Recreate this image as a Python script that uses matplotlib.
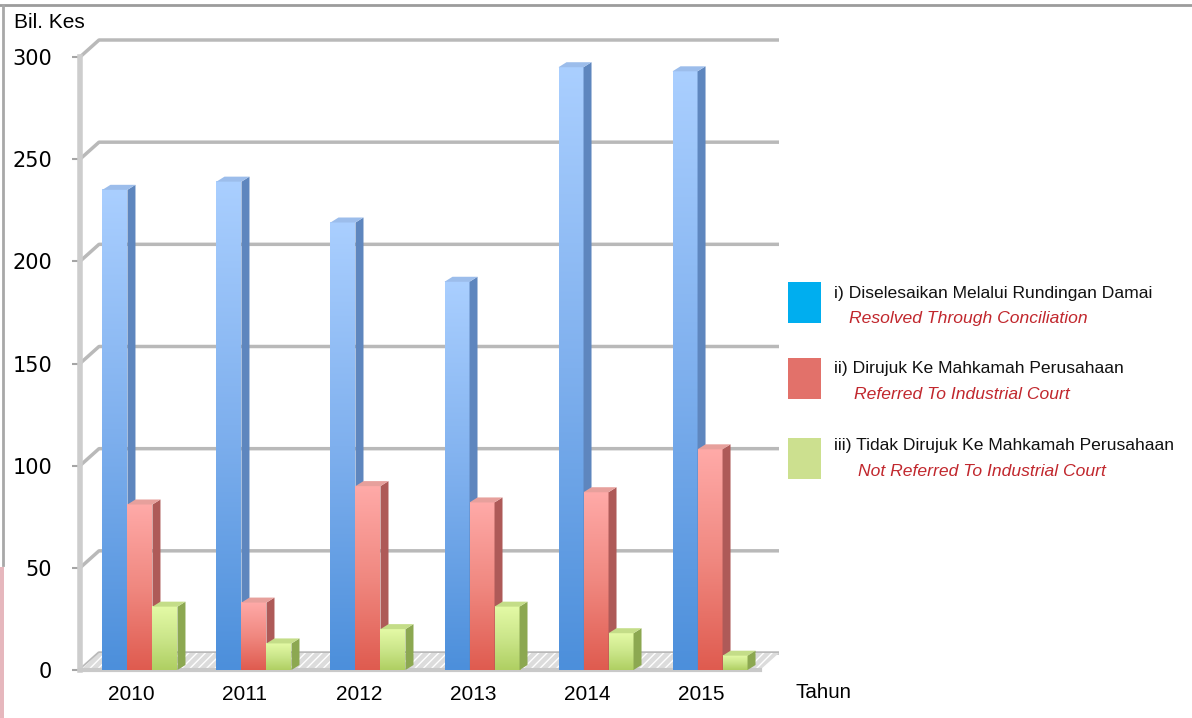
import numpy as np
import matplotlib.pyplot as plt
from matplotlib.colors import LinearSegmentedColormap
from matplotlib.patches import Polygon, Rectangle
from matplotlib.lines import Line2D
import matplotlib.transforms as mtransforms

# data
years = ['2010', '2011', '2012', '2013', '2014', '2015']
resolved = [235, 239, 219, 190, 295, 293]      # Resolved Through Conciliation
referred = [81, 33, 90, 82, 87, 108]           # Referred To Industrial Court
not_referred = [31, 13, 20, 31, 18, 7]         # Not Referred To Industrial Court
yticks = [0, 50, 100, 150, 200, 250, 300]

legend_my = ['i) Diselesaikan Melalui Rundingan Damai',
             'ii) Dirujuk Ke Mahkamah Perusahaan',
             'iii) Tidak Dirujuk Ke Mahkamah Perusahaan']
legend_en = ['Resolved Through Conciliation',
             'Referred To Industrial Court',
             'Not Referred To Industrial Court']

W, H = 1192, 718
fig = plt.figure(figsize=(W / 100, H / 100), dpi=100)
fig.patch.set_facecolor('white')

# axes box in pixels: x 80..770, y 57..670 (from top)
ax = fig.add_axes([80 / W, 48 / H, 690 / W, 613 / H])
xlim = (-0.526, 5.526)
ylim = (0, 300)
ppx = 690 / (xlim[1] - xlim[0])   # pixels per x unit
ppy = 613 / (ylim[1] - ylim[0])   # pixels per y unit

def ux(px):
    return px / ppx

def uy(px):
    return px / ppy

# wall / floor depth and bar depth
wdx, wdy = ux(19), uy(17)
bdx, bdy = ux(8), uy(5)
xl = xlim[0]
xr = xlim[1] - ux(10)

# back wall gridlines
for v in yticks:
    ax.add_line(Line2D([xl, xl + wdx, xr + wdx], [v, v + wdy, v + wdy],
                       color='#B9B9B9', lw=2.5, zorder=1, clip_on=False,
                       solid_capstyle='butt'))

# floor
floor = Polygon([(xl, 0), (xr, 0), (xr + wdx, wdy), (xl + wdx, wdy)],
                closed=True, facecolor='#DCDCDC', edgecolor='white',
                hatch='////', lw=0, zorder=2, clip_on=False)
ax.add_patch(floor)
ax.add_line(Line2D([xl, xr], [0, 0], color='#C9C9C9', lw=3, zorder=2.5,
                   clip_on=False))

# front left wall edge
ax.add_line(Line2D([xl, xl], [0, 300], color='#CDCDCD', lw=4, zorder=2,
                   clip_on=False))

series = [
    (resolved, ['#4C8FDB', '#7FB0EE', '#AACFFF'], '#5E86BE', '#9CBDEB'),
    (referred, ['#DF5B4F', '#F08880', '#FFAAA8'], '#AE5A58', '#E7A09C'),
    (not_referred, ['#AFCF62', '#CBE68A', '#E4FAA6'], '#8CA851', '#C4DD88'),
]
bw = ux(25)
x = np.arange(len(years))

for j, (vals, grad_cols, side_col, top_col) in enumerate(series):
    cmap = LinearSegmentedColormap.from_list('g%d' % j, grad_cols)
    bars = ax.bar(x + (j - 1) * bw, vals, width=bw, color='none',
                  edgecolor='none', zorder=5 + j)
    for rect in bars:
        x0 = rect.get_x()
        x1 = x0 + rect.get_width()
        h = rect.get_height()
        z = 5 + j
        grad = np.linspace(0, 1, 256).reshape(-1, 1)
        ax.imshow(grad, extent=(x0, x1, 0, h), origin='lower', aspect='auto',
                  cmap=cmap, interpolation='bicubic', zorder=z)
        side = Polygon([(x1, 0), (x1 + bdx, bdy), (x1 + bdx, h + bdy), (x1, h)],
                       closed=True, facecolor=side_col, edgecolor='none', zorder=z)
        top = Polygon([(x0, h), (x1, h), (x1 + bdx, h + bdy), (x0 + bdx, h + bdy)],
                      closed=True, facecolor=top_col, edgecolor='none', zorder=z)
        ax.add_patch(side)
        ax.add_patch(top)

ax.set_xlim(*xlim)
ax.set_ylim(*ylim)
ax.patch.set_visible(False)
for s in ax.spines.values():
    s.set_visible(False)

ax.set_yticks(yticks)
ax.set_yticklabels([str(v) for v in yticks], fontsize=15, family='DejaVu Sans')
ax.tick_params(axis='y', length=6, width=1.5, color='#A5A5A5', pad=14)
ax.set_xticks(x)
ax.set_xticklabels(years, fontsize=15, family='Liberation Sans')
ax.tick_params(axis='x', length=0, pad=11)
shift = mtransforms.ScaledTranslation(-9 / 100, 0, fig.dpi_scale_trans)
for lab in ax.get_xticklabels():
    lab.set_transform(lab.get_transform() + shift)

# axis titles
fig.text(14 / W, 1 - 22 / H, 'Bil. Kes', fontsize=15, family='Liberation Sans',
         ha='left', va='center')
fig.text(795 / W, 1 - 693 / H, 'Tahun', fontsize=14.8, family='Liberation Sans',
         ha='left', va='center')

# legend
leg_colors = ['#00AEEF', '#E2716A', '#CCE08F']
sq_top = [282, 358, 438]
line1_y = [293, 369, 446]
line2_y = [318, 394, 471]
it_x = [849, 854, 858]
for k in range(3):
    fig.patches.append(Rectangle((788 / W, 1 - (sq_top[k] + 41) / H), 33 / W, 41 / H,
                                 transform=fig.transFigure, facecolor=leg_colors[k],
                                 edgecolor='none'))
    fig.text(834 / W, 1 - line1_y[k] / H, legend_my[k], fontsize=12.6,
             family='Liberation Sans', ha='left', va='center', color='#111111')
    fig.text(it_x[k] / W, 1 - line2_y[k] / H, legend_en[k], fontsize=12.6,
             family='Liberation Sans', style='italic', ha='left', va='center',
             color='#C1272D')

# outer frame
fig.add_artist(Line2D([0, 1], [1 - 5 / H, 1 - 5 / H], color='#9C9C9C', lw=2,
                      transform=fig.transFigure))
fig.add_artist(Line2D([3 / W, 3 / W], [1 - 5 / H, 1 - 565 / H], color='#A8A8A8', lw=2,
                      transform=fig.transFigure))
fig.patches.append(Rectangle((0, 0), 4 / W, 1 - 567 / H, transform=fig.transFigure,
                             facecolor='#E6B7BD', edgecolor='none'))

fig.savefig('out.png', dpi=100)
